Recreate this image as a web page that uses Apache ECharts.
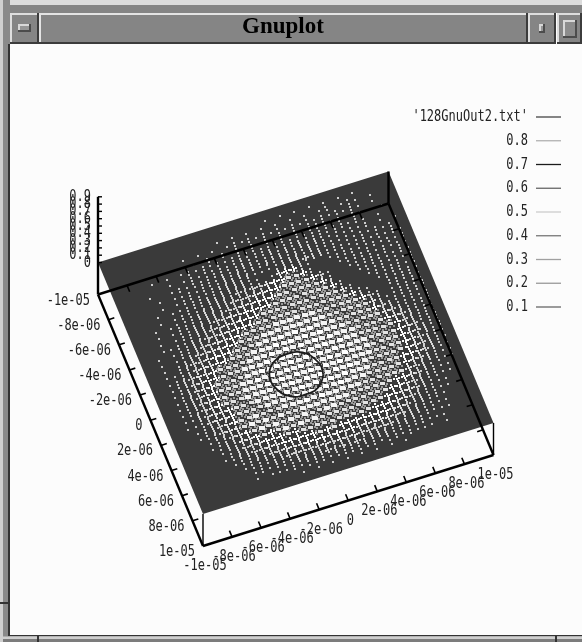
<!DOCTYPE html>
<html>
<head>
<meta charset="utf-8">
<title>Gnuplot</title>
<style>
html, body { margin: 0; padding: 0; background: #fcfcfc; }
#chart { width: 582px; height: 642px; }
</style>
<script src="https://cdn.jsdelivr.net/npm/echarts@6/dist/echarts.min.js"></script>
</head>
<body>
<div id="chart"></div>
<script>
const windowTitle = 'Gnuplot';
const xTicks = [-10, -8, -6, -4, -2, 0, 2, 4, 6, 8, 10];
const xTickLabels = ['-1e-05', '-8e-06', '-6e-06', '-4e-06', '-2e-06', '0', '2e-06', '4e-06', '6e-06', '8e-06', '1e-05'];
const yTicks = [-10, -8, -6, -4, -2, 0, 2, 4, 6, 8, 10];
const yTickLabels = ['-1e-05', '-8e-06', '-6e-06', '-4e-06', '-2e-06', '0', '2e-06', '4e-06', '6e-06', '8e-06', '1e-05'];
const zTicks = [0, 0.1, 0.2, 0.3, 0.4, 0.5, 0.6, 0.7, 0.8, 0.9];
const zTickLabels = ['0', '0.1', '0.2', '0.3', '0.4', '0.5', '0.6', '0.7', '0.8', '0.9'];
const legendLabels = ["'128GnuOut2.txt'", '0.8', '0.7', '0.6', '0.5', '0.4', '0.3', '0.2', '0.1'];
const legendColors = ['#444444', '#b0b0b0', '#1c1c1c', '#666666', '#cccccc', '#777777', '#a0a0a0', '#999999', '#666666'];

// the 0.7 contour, in units of 1e-6
const contourX = [0.86, 0.5, -0.04, -0.7, -1.36, -2.0, -2.32, -2.5, -2.4, -2.1, -1.52, -0.9, -0.2, 0.4, 0.76, 0.95, 0.86];
const contourY = [2.86, 3.4, 3.78, 3.85, 3.82, 3.4, 2.9, 2.2, 1.62, 1.1, 0.7, 0.6, 0.66, 1.0, 1.58, 2.2, 2.86];

// how much of the mesh shows in each cell, 0 none to 9 solid.
// row 0 is the y = -1e-05 edge, column 0 the x = -1e-05 edge
const meshRows = [
    '0000000000 0000000000 0000000000 0000000000',
    '0000000000 0000000000 0010101010 1010100000',
    '0000000000 0000010101 0101010101 2012101000',
    '0000000000 1010101212 1212121212 1212101000',
    '0000000101 0112121212 1212121222 1212110100',
    '0000010101 2121212222 2222222222 2212101000',
    '0000000101 2122222322 2323232321 2121201010',
    '0000100121 2222323232 3232323222 1212121200',
    '0000010112 1222333311 1233343322 2122121210',
    '0000010122 2223333210 1566310012 2212212120',
    '0000101122 2333343445 6677620001 2222121210',
    '0000101222 3333444556 6777764100 1222221210',
    '0001012223 3334455666 7777776300 0122212120',
    '0001012233 3445566667 7777777620 0012222120',
    '0001012233 4455666777 7777777752 0001222210',
    '0001122334 4556667777 7777777776 3100222210',
    '0010122344 5566777788 8888777777 6420122220',
    '0010123445 5667778888 8888877777 7531222220',
    '0010234456 6677788898 9898887777 7643222120',
    '0011234556 6777888989 8989888777 7754322220',
    '0012345567 7778889898 9898988877 7765432210',
    '0012345667 7788898989 8989898877 7776432220',
    '0012345677 7788989898 9898988887 7776542220',
    '0012345677 7889898989 8989898887 7776543220',
    '0012345677 7888989898 9898988887 7776543210',
    '0012345677 7888898989 8989898877 7776543210',
    '0011345567 7788889898 9898988877 7766543210',
    '0011245567 7778888989 8989888777 7765432110',
    '0001234567 7877788898 9888887777 7754322110',
    '0001234557 8787877888 8888777777 6654321100',
    '0000123456 7878787877 8877777776 6543221100',
    '0000123355 6767878787 7777777766 5543211000',
    '0000012344 5666767777 7777776665 5432211000',
    '0000012334 4556666676 7666666655 4332210000',
    '0000001223 3445556665 6565555544 3322110000',
    '0000000122 2334444454 5454444433 3221110000',
    '0000000012 1222333343 4343333222 2211100000',
    '0000000010 1112122212 2222212212 1110100000',
    '0000000000 0000101010 1010101010 0000000000',
    '0000000000 0000000000 0000000000 0000000000'
];

const view = {
    origin: [203, 546],   // x = -1e-05, y = 1e-05, base level
    xEdge: [290.5, -91],  // across x = -1e-05 .. 1e-05
    yEdge: [105, 251.5],  // across y = -1e-05 .. 1e-05
    zBase: 32,
    zScale: 73
};

function project(x, y, z) {
    const u = (x + 10) / 20;
    const v = (y - 10) / 20;
    return [
        view.origin[0] + u * view.xEdge[0] + v * view.yEdge[0],
        view.origin[1] + u * view.xEdge[1] + v * view.yEdge[1] - (z === null ? 0 : view.zBase + z * view.zScale)
    ];
}

const chart = echarts.init(document.getElementById('chart'), null, { renderer: 'canvas' });

const n = meshRows.length;
const meshData = [];
meshRows.forEach((row, r) => {
    row.replace(/ /g, '').split('').forEach((d, c) => {
        if (d !== '0') meshData.push([c, r, +d]);
    });
});

const blobFill = { 7: '#e2e2e2', 8: '#f4f4f4', 9: '#ffffff' };
const blobW = { 7: 5, 8: 6, 9: 6 };
const blobH = { 7: 3, 8: 4, 9: 4 };
const dotColor = { 1: '#cccccc', 2: '#cccccc', 3: '#d4d4d4', 4: '#cfcfcf', 5: '#e4e4e4', 6: '#fafafa' };

function renderMesh(params, api) {
    const c = api.value(0), r = api.value(1), d = api.value(2);
    const step = 20 / n;
    const x = -10 + (c + 0.5) * step;
    const y = -10 + (r + 0.5) * step;
    const at = (dx, dy) => api.coord(project(x + dx * step, y + dy * step, 0));
    const dot = (dx, dy, fill) => {
        const p = at(dx, dy);
        return { type: 'rect', shape: { x: Math.round(p[0]) - 1, y: Math.round(p[1]) - 1, width: 2, height: 2 }, style: { fill } };
    };
    const children = [];
    if (d >= 7) {
        // thin mesh behind the cell
        [-0.25, 0.25].forEach(t => {
            children.push(dot(-0.5, t, '#9a9a9a'));
            children.push(dot(t, -0.5, '#9a9a9a'));
        });
        const p = at(0, 0);
        children.push({
            type: 'rect',
            shape: { x: Math.round(p[0] - blobW[d] / 2), y: Math.round(p[1] - blobH[d] / 2), width: blobW[d], height: blobH[d] },
            style: { fill: blobFill[d] }
        });
    } else if (d >= 4) {
        [-0.34, 0, 0.34].forEach(t => {
            children.push(dot(0, t, dotColor[d]));
            if (t !== 0) children.push(dot(t, 0, dotColor[d]));
        });
    } else {
        for (let i = 0; i < d; i++) {
            children.push(dot(0, (i + 0.5) / d - 0.5, dotColor[d]));
        }
    }
    return { type: 'group', children };
}

function renderPlane(params, api) {
    const pts = [[-10, 10], [10, 10], [10, -10], [-10, -10]].map(p => api.coord(project(p[0], p[1], 0)));
    return { type: 'polygon', shape: { points: pts }, style: { fill: '#3a3a3a' } };
}

function renderContour(params, api) {
    const pts = contourX.map((x, i) => api.coord(project(x, contourY[i], 0)));
    return { type: 'polyline', shape: { points: pts, smooth: 0.3 }, style: { stroke: '#1c1c1c', lineWidth: 1.8, fill: null } };
}

function seg(a, b, width) {
    return {
        type: 'line',
        shape: { x1: a[0], y1: a[1], x2: b[0], y2: b[1] },
        style: { stroke: '#000000', lineWidth: width }
    };
}

// the X font is tall and narrow, so mono text gets stretched upward
function txt(p, text, align) {
    return {
        type: 'text',
        x: p[0], y: p[1],
        scaleY: 1.3,
        style: {
            x: 0, y: 0, text: text, textAlign: align, textVerticalAlign: 'middle',
            fill: '#222222', font: '12px "DejaVu Sans Mono"'
        }
    };
}

function renderFrame(params, api) {
    const base = (x, y) => api.coord(project(x, y, null));
    const top = (x, y, z) => api.coord(project(x, y, z));
    const out = [];
    // base box
    out.push(seg(base(-10, 10), base(10, 10), 2.4));
    out.push(seg(base(10, 10), base(10, -10), 2.4));
    out.push(seg(base(10, -10), base(-10, -10), 2.4));
    out.push(seg(base(-10, -10), base(-10, 10), 2.4));
    // uprights
    out.push(seg(base(-10, 10), top(-10, 10, 0), 1.4));
    out.push(seg(base(10, 10), top(10, 10, 0), 1.4));
    out.push(seg(base(10, -10), top(10, -10, 0), 2.4));
    out.push(seg(base(-10, -10), top(-10, -10, 0.9), 2.4));
    // ticks and labels
    xTicks.forEach((x, i) => {
        const p = base(x, 10);
        if (i > 0 && i < xTicks.length - 1) {
            out.push(seg(p, base(x, 9.5), 1.6));
            out.push(seg(base(x, -10), base(x, -9.5), 1.6));
        }
        out.push(txt([p[0] + 2, p[1] + 20], xTickLabels[i], 'center'));
    });
    yTicks.forEach((y, i) => {
        const p = base(-10, y);
        if (i > 0 && i < yTicks.length - 1) {
            out.push(seg(p, base(-9.6, y), 1.6));
            out.push(seg(base(10, y), base(9.6, y), 1.6));
        }
        out.push(txt([p[0] - 8, p[1] + 6], yTickLabels[i], 'right'));
    });
    zTicks.forEach((z, i) => {
        const p = top(-10, -10, z);
        out.push(seg(p, [p[0] + 4, p[1]], 1.4));
        out.push(txt([p[0] - 7, p[1]], zTickLabels[i], 'right'));
    });
    return { type: 'group', children: out };
}

function renderLegend(params, api) {
    const out = [];
    legendLabels.forEach((label, i) => {
        const a = api.coord([536, 117 + i * 23.75]);
        const b = api.coord([561, 117 + i * 23.75]);
        out.push(txt([a[0] - 8, a[1]], label, 'right'));
        out.push({ type: 'line', shape: { x1: a[0], y1: a[1], x2: b[0], y2: b[1] }, style: { stroke: legendColors[i], lineWidth: 1.3 } });
    });
    return { type: 'group', children: out };
}

function bevel(x, y, w, h, fill, light, dark) {
    return [
        { type: 'rect', shape: { x, y, width: w, height: h }, style: { fill } },
        { type: 'rect', shape: { x, y, width: w, height: 2 }, style: { fill: light } },
        { type: 'rect', shape: { x, y, width: 2, height: h }, style: { fill: light } },
        { type: 'rect', shape: { x, y: y + h - 2, width: w, height: 2 }, style: { fill: dark } },
        { type: 'rect', shape: { x: x + w - 2, y, width: 2, height: h }, style: { fill: dark } }
    ];
}

const chrome = [].concat(
    [
        { type: 'rect', shape: { x: 0, y: 0, width: 582, height: 5 }, style: { fill: '#dcdcdc' } },
        { type: 'rect', shape: { x: 0, y: 5, width: 582, height: 8 }, style: { fill: '#858585' } },
        { type: 'rect', shape: { x: 0, y: 0, width: 10, height: 642 }, style: { fill: '#8a8a8a' } },
        { type: 'rect', shape: { x: 0, y: 0, width: 3, height: 642 }, style: { fill: '#d0d0d0' } },
        { type: 'rect', shape: { x: 8, y: 44, width: 2, height: 592 }, style: { fill: '#333333' } },
        { type: 'rect', shape: { x: 0, y: 602, width: 10, height: 2 }, style: { fill: '#333333' } },
        { type: 'rect', shape: { x: 10, y: 635, width: 572, height: 1.5 }, style: { fill: '#333333' } },
        { type: 'rect', shape: { x: 3, y: 636.5, width: 579, height: 2.5 }, style: { fill: '#cfcfcf' } },
        { type: 'rect', shape: { x: 3, y: 639, width: 579, height: 3 }, style: { fill: '#7c7c7c' } },
        { type: 'rect', shape: { x: 37, y: 636, width: 2, height: 6 }, style: { fill: '#333333' } },
        { type: 'rect', shape: { x: 555, y: 636, width: 2, height: 6 }, style: { fill: '#333333' } }
    ],
    bevel(10, 13, 29, 31, '#858585', '#dedede', '#3c3c3c'),
    bevel(39, 13, 489, 31, '#858585', '#e4e4e4', '#3c3c3c'),
    bevel(528, 13, 28, 31, '#858585', '#dedede', '#3c3c3c'),
    bevel(557, 13, 25, 31, '#858585', '#dedede', '#3c3c3c'),
    bevel(18, 24, 13, 8, '#969696', '#d8d8d8', '#4c4c4c'),
    bevel(539, 24, 6, 9, '#969696', '#d8d8d8', '#4c4c4c'),
    bevel(563, 20, 14, 18, '#8c8c8c', '#d8d8d8', '#4c4c4c'),
    [{
        type: 'text',
        x: 283, y: 27,
        style: {
            text: windowTitle, textAlign: 'center', textVerticalAlign: 'middle',
            fill: '#000000', font: 'bold 23px "Liberation Serif"'
        }
    }]
);

chart.setOption({
    animation: false,
    backgroundColor: '#fcfcfc',
    grid: { left: 0, right: 0, top: 0, bottom: 0 },
    xAxis: { type: 'value', min: 0, max: 582, show: false },
    yAxis: { type: 'value', min: 0, max: 642, inverse: true, show: false },
    graphic: chrome,
    series: [
        { type: 'custom', silent: true, clip: false, coordinateSystem: 'cartesian2d', data: [[0, 0]], renderItem: renderPlane, z: 1 },
        { type: 'custom', silent: true, clip: false, coordinateSystem: 'cartesian2d', data: meshData, renderItem: renderMesh, z: 2 },
        { type: 'custom', silent: true, clip: false, coordinateSystem: 'cartesian2d', data: [[0, 0]], renderItem: renderContour, z: 3 },
        { type: 'custom', silent: true, clip: false, coordinateSystem: 'cartesian2d', data: [[0, 0]], renderItem: renderFrame, z: 4 },
        { type: 'custom', silent: true, clip: false, coordinateSystem: 'cartesian2d', data: [[0, 0]], renderItem: renderLegend, z: 4 }
    ]
});
</script>
</body>
</html>
